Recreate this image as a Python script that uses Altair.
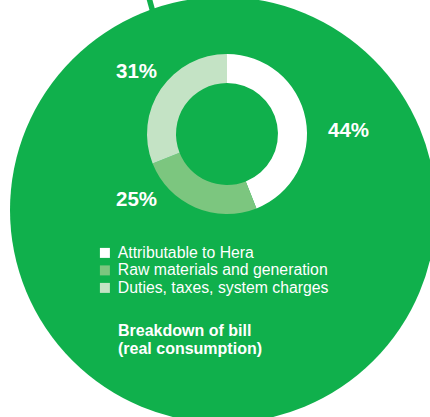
import altair as alt
import pandas as pd

categories = ["Attributable to Hera", "Raw materials and generation", "Duties, taxes, system charges"]
shares = [44, 25, 31]
share_labels = ["44%", "25%", "31%"]
slice_order = [0, 1, 2]
title_lines = ["Breakdown of bill", "(real consumption)"]

GREEN = "#10b04c"
palette = ["#ffffff", "#7cc67f", "#c4e3c5"]
FONT = "Liberation Sans"

df = pd.DataFrame({"category": categories, "share": shares,
                   "label": share_labels, "order": slice_order})
one = pd.DataFrame({"k": [0]})

stem = alt.Chart(one).mark_rule(color=GREEN, strokeWidth=5.5).encode(
    x=alt.value(148.5), y=alt.value(-4), x2=alt.value(154), y2=alt.value(16))

bg = alt.Chart(one).mark_arc(outerRadius=213, theta=0, theta2=6.2832, color=GREEN).encode(
    x=alt.value(223), y=alt.value(210))

donut = alt.Chart(df).mark_arc(innerRadius=51, outerRadius=80).encode(
    theta=alt.Theta("share:Q", stack=True),
    color=alt.Color("category:N",
                    scale=alt.Scale(domain=categories, range=palette),
                    legend=alt.Legend(title=None, orient="none", legendX=97, legendY=245,
                                      symbolType="square", symbolSize=100,
                                      symbolStrokeWidth=0, symbolOpacity=1,
                                      labelColor="white", labelFont=FONT,
                                      labelFontSize=15.8, labelOffset=5,
                                      rowPadding=0.5, padding=0, labelLimit=400)),
    order=alt.Order("order:Q"),
    x=alt.value(227), y=alt.value(134))

label_pos = {"44%": (348.5, 137), "25%": (136.5, 206), "31%": (136.5, 78)}
label_layers = []
for lab, (px, py) in label_pos.items():
    label_layers.append(
        alt.Chart(df).transform_filter(alt.datum.label == lab)
        .mark_text(font=FONT, fontSize=20.5, fontWeight="bold", color="white",
                   align="center", baseline="alphabetic")
        .encode(text="label:N", x=alt.value(px), y=alt.value(py)))

title = alt.Chart(one).mark_text(text=title_lines, font=FONT, fontSize=16, fontWeight="bold",
                                 color="white", align="left", baseline="alphabetic",
                                 lineHeight=18).encode(x=alt.value(118), y=alt.value(336))

chart = alt.layer(stem, bg, donut, *label_layers, title).properties(
    width=430, height=417, background="white", padding=0,
    autosize=alt.AutoSizeParams(type="none")
).configure_view(stroke=None)

chart.save("out.html", embed_options={"renderer": "svg", "actions": False})
